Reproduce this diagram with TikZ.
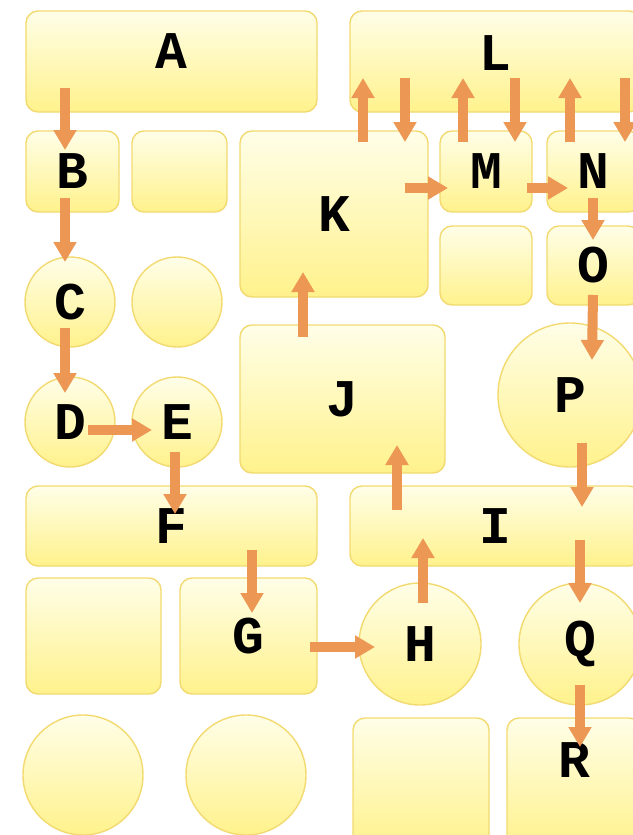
\documentclass[tikz,border=0pt]{standalone}
\usepackage{fontspec}
\setmonofont{Liberation Mono}
\usepackage{tikz}
\usetikzlibrary{arrows.meta,positioning,calc}

\definecolor{boxtop}{RGB}{255,254,232}
\definecolor{boxbot}{RGB}{255,242,140}
\definecolor{boxline}{RGB}{242,218,112}
\definecolor{arrowc}{RGB}{236,151,84}

\begin{document}
\begin{tikzpicture}[x=1pt, y=-1pt,
  box/.style={draw=boxline, line width=1.4pt, rounded corners=12pt,
    top color=boxtop, bottom color=boxbot, inner sep=0pt},
  ball/.style={draw=boxline, line width=1.4pt, circle,
    top color=boxtop, bottom color=boxbot, inner sep=0pt},
  lbl/.style={font=\ttfamily\bfseries\fontsize{53}{53}\selectfont},
  arr/.style={draw=arrowc, line width=10pt, -{Triangle[length=20pt,width=22pt]}}]
\useasboundingbox (0,0) rectangle (632,835);

% Top rows
\node[box, lbl, minimum width=291, minimum height=101, text depth=20pt] (A) at (171.5,61.5) {A};
\node[box, lbl, minimum width=291, minimum height=101, text depth=16pt] (L) at (495.5,61.5) {L};
\node[box, lbl, minimum width=93, minimum height=81] (B) at (72.5,171.5) {B};
\node[box, minimum width=95, minimum height=81] (b1) at (179.5,171.5) {};
\node[box, lbl, minimum width=188, minimum height=166] (K) at (334,214) {K};
\node[box, lbl, minimum width=92, minimum height=81] (M) at (486,171.5) {M};
\node[box, lbl, minimum width=93, minimum height=81] (N) at (593.5,171.5) {N};
\node[box, minimum width=92, minimum height=79] (b2) at (486,265.5) {};
\node[box, lbl, minimum width=93, minimum height=79] (O) at (593.5,265.5) {O};

% Middle rows
\node[ball, lbl, minimum size=90] (C) at (70,302) {C};
\node[ball, minimum size=90] (c1) at (177,302) {};
\node[ball, lbl, minimum size=90] (D) at (70,422) {D};
\node[ball, lbl, minimum size=90] (E) at (177,422) {E};
\node[box, lbl, minimum width=205, minimum height=148] (J) at (342.5,399) {J};
\node[ball, lbl, minimum size=144] (P) at (570,395) {P};
\node[box, lbl, minimum width=291, minimum height=80] (F) at (171.5,526) {F};
\node[box, lbl, minimum width=291, minimum height=80] (I) at (495.5,526) {I};

% Bottom rows
\node[box, minimum width=135, minimum height=116] (b3) at (93.5,636) {};
\node[box, lbl, minimum width=137, minimum height=116] (G) at (248.5,636) {G};
\node[ball, lbl, minimum size=122] (H) at (420,644) {H};
\node[ball, lbl, minimum size=122] (Q) at (580,644) {Q};
\node[ball, minimum size=120] (c2) at (83,775) {};
\node[ball, minimum size=120] (c3) at (246,775) {};
\node[box, minimum width=136, minimum height=130] (b4) at (421,783) {};
\node[box, lbl, minimum width=134, minimum height=130, text depth=46pt] (R) at (574,783) {R};

% Arrows
\draw[arr] ([shift={(-106.5,26.5)}]A.center) -- ([shift={(-7.5,-21.5)}]B.center);
\draw[arr] ([shift={(-7.5,26.5)}]B.center) -- ([shift={(-5,-40)}]C.center);
\draw[arr] ([shift={(-5,26)}]C.center) -- ([shift={(-5,-29)}]D.center);
\draw[arr] ([shift={(18,8)}]D.center) -- ([shift={(-25,8)}]E.center);
\draw[arr] ([shift={(-2,30)}]E.center) -- ([shift={(3.5,-12)}]F.center);
\draw[arr] ([shift={(80.5,24)}]F.center) -- ([shift={(3.5,-23)}]G.center);
\draw[arr] ([shift={(61.5,11)}]G.center) -- ([shift={(-45,3)}]H.center);
\draw[arr] ([shift={(3,-41)}]H.center) -- ([shift={(-72.5,12)}]I.center);
\draw[arr] ([shift={(-98.5,-16)}]I.center) -- ([shift={(54.5,46)}]J.center);
\draw[arr] ([shift={(-39.5,-62)}]J.center) -- ([shift={(-31,58)}]K.center);
\draw[arr] ([shift={(29,-72)}]K.center) -- ([shift={(-132.5,16.5)}]L.center);
\draw[arr] ([shift={(-90.5,16.5)}]L.center) -- ([shift={(71,-72)}]K.center);
\draw[arr] ([shift={(-23,-29.5)}]M.center) -- ([shift={(-32.5,16.5)}]L.center);
\draw[arr] ([shift={(19.5,16.5)}]L.center) -- ([shift={(29,-29.5)}]M.center);
\draw[arr] ([shift={(-23.5,-29.5)}]N.center) -- ([shift={(74.5,16.5)}]L.center);
\draw[arr] ([shift={(129.5,16.5)}]L.center) -- ([shift={(31.5,-29.5)}]N.center);
\draw[arr] ([shift={(71,-26)}]K.center) -- ([shift={(-38,16.5)}]M.center);
\draw[arr] ([shift={(41,16.5)}]M.center) -- ([shift={(-25.5,16.5)}]N.center);
\draw[arr] ([shift={(-0.5,26.5)}]N.center) -- ([shift={(-0.5,-25.5)}]O.center);
\draw[arr] ([shift={(-0.5,29.5)}]O.center) -- ([shift={(22,-35)}]P.center);
\draw[arr] ([shift={(12,48)}]P.center) -- ([shift={(86.5,-19)}]I.center);
\draw[arr] ([shift={(84.5,14)}]I.center) -- ([shift={(0,-41)}]Q.center);
\draw[arr] ([shift={(0,41)}]Q.center) -- ([shift={(6,-36)}]R.center);
\end{tikzpicture}
\end{document}
